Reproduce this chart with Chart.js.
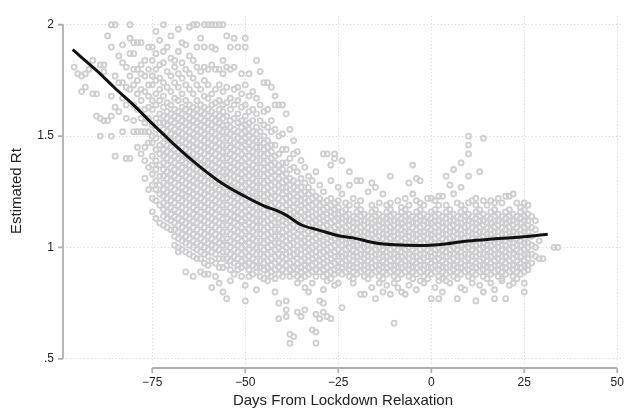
<!DOCTYPE html>
<html lang="en">
<head>
<meta charset="utf-8">
<title>Estimated Rt</title>
<script src="https://cdn.jsdelivr.net/npm/chart.js@4.4.1/dist/chart.umd.min.js"></script>
<style>
    html, body { margin: 0; padding: 0; background: #fff; }
    #wrap { width: 633px; height: 410px; }
</style>
</head>
<body>
<div id="wrap"><canvas id="chart" width="633" height="410"></canvas></div>
<script>
// days from lockdown relaxation (one row of rtByDay per day)
const days = [
    -96, -95, -94, -93, -92, -91, -90, -89, -88, -87,
    -86, -85, -84, -83, -82, -81, -80, -79, -78, -77,
    -76, -75, -74, -73, -72, -71, -70, -69, -68, -67,
    -66, -65, -64, -63, -62, -61, -60, -59, -58, -57,
    -56, -55, -54, -53, -52, -51, -50, -49, -48, -47,
    -46, -45, -44, -43, -42, -41, -40, -39, -38, -37,
    -36, -35, -34, -33, -32, -31, -30, -29, -28, -27,
    -26, -25, -24, -23, -22, -21, -20, -19, -18, -17,
    -16, -15, -14, -13, -12, -11, -10, -9, -8, -7,
    -6, -5, -4, -3, -2, -1, 0, 1, 2, 3,
    4, 5, 6, 7, 8, 9, 10, 11, 12, 13,
    14, 15, 16, 17, 18, 19, 20, 21, 22, 23,
    24, 25, 26, 27, 28, 29, 30, 31, 32, 33,
    34
];

// estimated Rt of each region
const rtByDay = [
    [1.81],
    [1.78],
    [1.77, 1.70],
    [1.78, 1.72],
    [1.80],
    [1.84, 1.69],
    [1.69, 1.59],
    [1.58, 1.50, 1.82],
    [1.82, 1.79, 1.57],
    [1.57, 1.95],
    [2.00, 1.90, 1.59, 1.50, 1.68],
    [2.00, 1.41, 1.77, 1.63],
    [1.74, 1.61, 1.86],
    [1.91, 1.83, 1.74, 1.67, 1.52],
    [1.40, 1.81, 1.72, 1.58, 1.64],
    [2.00, 1.94, 1.77, 1.87, 1.71, 1.40],
    [1.87, 1.92, 1.80, 1.52, 1.73, 1.64, 1.57],
    [1.69, 1.92, 1.80, 1.52, 1.75, 1.62, 1.45],
    [1.92, 1.82, 1.52, 1.71, 1.42, 1.66, 1.58, 1.78],
    [1.84, 1.52, 1.39, 1.31, 1.77, 1.62, 1.70, 1.56, 1.45],
    [1.73, 1.68, 1.90, 1.47, 1.58, 1.36, 1.80, 1.63, 1.52, 1.26],
    [1.90, 1.84, 1.77, 1.73, 1.66, 1.62, 1.55, 1.50, 1.47, 1.41, 1.37, 1.33, 1.28, 1.22, 1.16],
    [1.97, 1.87, 1.80, 1.75, 1.69, 1.64, 1.58, 1.53, 1.49, 1.44, 1.39, 1.35, 1.30, 1.26, 1.21, 1.13],
    [1.93, 1.82, 1.76, 1.71, 1.66, 1.60, 1.56, 1.51, 1.46, 1.42, 1.37, 1.32, 1.28, 1.24, 1.19, 1.11],
    [2.00, 1.88, 1.83, 1.74, 1.68, 1.63, 1.59, 1.56, 1.53, 1.50, 1.47, 1.44, 1.41, 1.38, 1.35, 1.32, 1.29, 1.26, 1.23, 1.20, 1.17, 1.14, 1.10],
    [1.90, 1.79, 1.72, 1.65, 1.61, 1.58, 1.55, 1.52, 1.49, 1.46, 1.43, 1.40, 1.37, 1.34, 1.31, 1.28, 1.25, 1.22, 1.19, 1.16, 1.13, 1.09],
    [1.95, 1.85, 1.77, 1.70, 1.64, 1.60, 1.57, 1.54, 1.51, 1.48, 1.45, 1.42, 1.39, 1.36, 1.33, 1.30, 1.27, 1.24, 1.21, 1.18, 1.15, 1.12, 1.08],
    [1.84, 1.81, 1.74, 1.67, 1.62, 1.59, 1.56, 1.53, 1.50, 1.47, 1.44, 1.41, 1.38, 1.35, 1.32, 1.29, 1.26, 1.23, 1.20, 1.17, 1.14, 1.11, 1.08, 1.05, 1.01],
    [1.98, 1.88, 1.78, 1.72, 1.66, 1.61, 1.58, 1.55, 1.52, 1.49, 1.46, 1.43, 1.40, 1.37, 1.34, 1.31, 1.28, 1.25, 1.22, 1.19, 1.16, 1.13, 1.10, 1.07, 1.04, 1.00, 0.98],
    [1.92, 1.83, 1.76, 1.69, 1.63, 1.60, 1.57, 1.54, 1.51, 1.48, 1.45, 1.42, 1.39, 1.36, 1.33, 1.30, 1.27, 1.24, 1.21, 1.18, 1.15, 1.12, 1.09, 1.06, 1.03, 0.99],
    [1.91, 1.80, 1.73, 1.66, 1.62, 1.59, 1.56, 1.53, 1.50, 1.47, 1.44, 1.41, 1.38, 1.35, 1.32, 1.29, 1.26, 1.23, 1.20, 1.17, 1.14, 1.11, 1.08, 1.05, 1.02, 0.98, 0.89],
    [1.99, 1.86, 1.78, 1.71, 1.64, 1.61, 1.58, 1.55, 1.52, 1.49, 1.46, 1.43, 1.40, 1.37, 1.34, 1.31, 1.28, 1.25, 1.22, 1.19, 1.16, 1.13, 1.10, 1.07, 1.04, 1.01, 0.97],
    [2.00, 1.84, 1.76, 1.69, 1.63, 1.60, 1.57, 1.54, 1.51, 1.48, 1.45, 1.42, 1.39, 1.36, 1.33, 1.30, 1.27, 1.24, 1.21, 1.18, 1.15, 1.12, 1.09, 1.06, 1.03, 1.00, 0.96, 0.87],
    [2.00, 1.90, 1.81, 1.73, 1.66, 1.62, 1.59, 1.56, 1.53, 1.50, 1.47, 1.44, 1.41, 1.38, 1.35, 1.32, 1.29, 1.26, 1.23, 1.20, 1.17, 1.14, 1.11, 1.08, 1.05, 1.02, 0.99, 0.95],
    [1.94, 1.79, 1.71, 1.64, 1.61, 1.58, 1.55, 1.52, 1.49, 1.46, 1.43, 1.40, 1.37, 1.34, 1.31, 1.28, 1.25, 1.22, 1.19, 1.16, 1.13, 1.10, 1.07, 1.04, 1.01, 0.98, 0.95, 0.89],
    [2.00, 1.90, 1.81, 1.75, 1.68, 1.63, 1.60, 1.57, 1.54, 1.51, 1.48, 1.45, 1.42, 1.39, 1.36, 1.33, 1.30, 1.27, 1.24, 1.21, 1.18, 1.15, 1.12, 1.09, 1.06, 1.03, 1.00, 0.97, 0.93, 0.88],
    [2.00, 1.80, 1.73, 1.67, 1.62, 1.59, 1.56, 1.53, 1.50, 1.47, 1.44, 1.41, 1.38, 1.35, 1.32, 1.29, 1.26, 1.23, 1.20, 1.17, 1.14, 1.11, 1.08, 1.05, 1.02, 0.99, 0.96, 0.92, 0.88],
    [2.00, 1.90, 1.82, 1.69, 1.64, 1.61, 1.58, 1.55, 1.52, 1.49, 1.46, 1.43, 1.40, 1.37, 1.34, 1.31, 1.28, 1.25, 1.22, 1.19, 1.16, 1.13, 1.10, 1.07, 1.04, 1.01, 0.98, 0.94, 0.82],
    [2.00, 1.89, 1.80, 1.71, 1.65, 1.60, 1.57, 1.54, 1.51, 1.48, 1.45, 1.42, 1.39, 1.36, 1.33, 1.30, 1.27, 1.24, 1.21, 1.18, 1.15, 1.12, 1.09, 1.06, 1.03, 1.00, 0.97, 0.93, 0.87],
    [2.00, 1.80, 1.73, 1.66, 1.62, 1.59, 1.56, 1.53, 1.50, 1.47, 1.44, 1.41, 1.38, 1.35, 1.32, 1.29, 1.26, 1.23, 1.20, 1.17, 1.14, 1.11, 1.08, 1.05, 1.02, 0.99, 0.95, 0.91, 0.84],
    [2.00, 1.84, 1.78, 1.70, 1.64, 1.61, 1.58, 1.55, 1.52, 1.49, 1.46, 1.43, 1.40, 1.37, 1.34, 1.31, 1.28, 1.25, 1.22, 1.19, 1.16, 1.13, 1.10, 1.07, 1.04, 1.01, 0.98, 0.95, 0.91, 0.80],
    [1.95, 1.81, 1.72, 1.65, 1.59, 1.55, 1.52, 1.49, 1.46, 1.43, 1.40, 1.37, 1.34, 1.31, 1.28, 1.25, 1.22, 1.19, 1.16, 1.13, 1.10, 1.07, 1.04, 1.01, 0.98, 0.95, 0.92, 0.77],
    [1.90, 1.80, 1.67, 1.62, 1.57, 1.54, 1.51, 1.48, 1.45, 1.42, 1.39, 1.36, 1.33, 1.30, 1.27, 1.24, 1.21, 1.18, 1.15, 1.12, 1.09, 1.06, 1.03, 1.00, 0.97, 0.94, 0.90, 0.85],
    [1.94, 1.81, 1.71, 1.64, 1.58, 1.53, 1.50, 1.47, 1.44, 1.41, 1.38, 1.35, 1.32, 1.29, 1.26, 1.23, 1.20, 1.17, 1.14, 1.11, 1.08, 1.05, 1.02, 0.99, 0.96, 0.93, 0.88],
    [1.90, 1.72, 1.66, 1.60, 1.56, 1.52, 1.49, 1.46, 1.43, 1.40, 1.37, 1.34, 1.31, 1.28, 1.25, 1.22, 1.19, 1.16, 1.13, 1.10, 1.07, 1.04, 1.01, 0.98, 0.95, 0.92, 0.90],
    [1.78, 1.69, 1.63, 1.57, 1.54, 1.51, 1.48, 1.45, 1.42, 1.39, 1.36, 1.33, 1.30, 1.27, 1.24, 1.21, 1.18, 1.15, 1.12, 1.09, 1.06, 1.03, 1.00, 0.97, 0.94, 0.91, 0.87],
    [1.94, 1.90, 1.73, 1.64, 1.59, 1.55, 1.52, 1.49, 1.46, 1.43, 1.40, 1.37, 1.34, 1.31, 1.28, 1.25, 1.22, 1.19, 1.16, 1.13, 1.10, 1.07, 1.04, 1.01, 0.98, 0.95, 0.92, 0.83, 0.76],
    [1.78, 1.68, 1.61, 1.56, 1.53, 1.50, 1.47, 1.44, 1.41, 1.38, 1.35, 1.32, 1.29, 1.26, 1.23, 1.20, 1.17, 1.14, 1.11, 1.08, 1.05, 1.02, 0.99, 0.96, 0.93, 0.90, 0.87],
    [1.70, 1.62, 1.57, 1.52, 1.49, 1.46, 1.43, 1.40, 1.37, 1.34, 1.31, 1.28, 1.25, 1.22, 1.19, 1.16, 1.13, 1.10, 1.07, 1.04, 1.01, 0.98, 0.95, 0.92, 0.88],
    [1.84, 1.67, 1.60, 1.54, 1.51, 1.48, 1.45, 1.42, 1.39, 1.36, 1.33, 1.30, 1.27, 1.24, 1.21, 1.18, 1.15, 1.12, 1.09, 1.06, 1.03, 1.00, 0.97, 0.94, 0.91, 0.89, 0.81],
    [1.79, 1.64, 1.57, 1.52, 1.48, 1.45, 1.42, 1.39, 1.36, 1.33, 1.30, 1.27, 1.24, 1.21, 1.18, 1.15, 1.12, 1.09, 1.06, 1.03, 1.00, 0.97, 0.94, 0.91, 0.87],
    [1.74, 1.61, 1.55, 1.50, 1.47, 1.44, 1.41, 1.38, 1.35, 1.32, 1.29, 1.26, 1.23, 1.20, 1.17, 1.14, 1.11, 1.08, 1.05, 1.02, 0.99, 0.96, 0.93, 0.90, 0.86],
    [1.74, 1.62, 1.54, 1.48, 1.45, 1.42, 1.39, 1.36, 1.33, 1.30, 1.27, 1.24, 1.21, 1.18, 1.15, 1.12, 1.09, 1.06, 1.03, 1.00, 0.97, 0.94, 0.91, 0.88, 0.85],
    [1.72, 1.57, 1.52, 1.46, 1.43, 1.40, 1.37, 1.34, 1.31, 1.28, 1.25, 1.22, 1.19, 1.16, 1.13, 1.10, 1.07, 1.04, 1.01, 0.98, 0.95, 0.92, 0.89, 0.87],
    [1.68, 1.64, 1.53, 1.46, 1.41, 1.38, 1.35, 1.32, 1.29, 1.26, 1.23, 1.20, 1.17, 1.14, 1.11, 1.08, 1.05, 1.02, 0.99, 0.96, 0.93, 0.90, 0.86, 0.80],
    [1.64, 1.50, 1.42, 1.37, 1.34, 1.31, 1.28, 1.25, 1.22, 1.19, 1.16, 1.13, 1.11, 1.08, 1.05, 1.02, 1.00, 0.97, 0.94, 0.91, 0.88, 0.75, 0.68],
    [1.64, 1.51, 1.44, 1.38, 1.35, 1.32, 1.29, 1.27, 1.24, 1.21, 1.18, 1.15, 1.12, 1.10, 1.07, 1.04, 1.01, 0.99, 0.96, 0.93, 0.90, 0.87],
    [1.60, 1.44, 1.38, 1.33, 1.30, 1.27, 1.25, 1.22, 1.19, 1.16, 1.14, 1.11, 1.08, 1.05, 1.03, 1.00, 0.97, 0.95, 0.92, 0.89, 0.76, 0.72, 0.69],
    [1.53, 1.40, 1.35, 1.31, 1.28, 1.26, 1.23, 1.20, 1.17, 1.15, 1.12, 1.09, 1.06, 1.04, 1.01, 0.98, 0.96, 0.93, 0.90, 0.87, 0.61, 0.57],
    [1.48, 1.42, 1.36, 1.30, 1.27, 1.24, 1.21, 1.18, 1.16, 1.13, 1.10, 1.07, 1.05, 1.02, 0.99, 0.97, 0.94, 0.91, 0.88, 0.60],
    [1.43, 1.34, 1.29, 1.26, 1.23, 1.20, 1.17, 1.14, 1.12, 1.09, 1.06, 1.03, 1.01, 0.98, 0.95, 0.93, 0.90, 0.87, 0.84, 0.71],
    [1.39, 1.31, 1.27, 1.24, 1.21, 1.19, 1.16, 1.13, 1.10, 1.08, 1.05, 1.02, 0.99, 0.97, 0.94, 0.91, 0.89, 0.86, 0.69],
    [1.36, 1.29, 1.25, 1.22, 1.20, 1.17, 1.14, 1.11, 1.09, 1.06, 1.03, 1.00, 0.98, 0.95, 0.92, 0.90, 0.87, 0.82, 0.72],
    [1.32, 1.27, 1.24, 1.21, 1.18, 1.15, 1.13, 1.10, 1.07, 1.04, 1.02, 0.99, 0.96, 0.94, 0.91, 0.88, 0.80],
    [1.30, 1.25, 1.22, 1.19, 1.16, 1.14, 1.11, 1.08, 1.06, 1.03, 1.00, 0.97, 0.95, 0.92, 0.89, 0.84, 0.63],
    [1.34, 1.23, 1.20, 1.17, 1.15, 1.12, 1.09, 1.07, 1.04, 1.01, 0.98, 0.96, 0.93, 0.90, 0.87, 0.70, 0.62, 0.57],
    [1.28, 1.22, 1.19, 1.16, 1.13, 1.11, 1.08, 1.05, 1.02, 1.00, 0.97, 0.94, 0.92, 0.89, 0.76, 0.68],
    [1.42, 1.25, 1.20, 1.17, 1.14, 1.12, 1.09, 1.06, 1.03, 1.01, 0.98, 0.95, 0.93, 0.90, 0.87, 0.81, 0.75, 0.71],
    [1.42, 1.21, 1.18, 1.15, 1.13, 1.10, 1.07, 1.04, 1.02, 0.99, 0.96, 0.94, 0.91, 0.88, 0.85, 0.69],
    [1.37, 1.30, 1.22, 1.19, 1.16, 1.14, 1.11, 1.08, 1.05, 1.03, 1.00, 0.97, 0.95, 0.92, 0.89, 0.86, 0.68],
    [1.42, 1.40, 1.20, 1.17, 1.15, 1.12, 1.09, 1.06, 1.04, 1.01, 0.98, 0.96, 0.93, 0.90, 0.88, 0.83],
    [1.27, 1.21, 1.18, 1.15, 1.13, 1.10, 1.07, 1.05, 1.02, 0.99, 0.96, 0.94, 0.91, 0.89, 0.84],
    [1.39, 1.24, 1.16, 1.13, 1.11, 1.08, 1.06, 1.03, 1.01, 0.98, 0.96, 0.93, 0.91, 0.88, 0.73],
    [1.20, 1.17, 1.14, 1.12, 1.09, 1.07, 1.04, 1.02, 0.99, 0.97, 0.94, 0.92, 0.89],
    [1.34, 1.28, 1.19, 1.15, 1.12, 1.10, 1.07, 1.05, 1.02, 1.00, 0.97, 0.95, 0.92, 0.90, 0.87],
    [1.22, 1.14, 1.11, 1.09, 1.06, 1.04, 1.01, 0.99, 0.96, 0.94, 0.91, 0.89, 0.86, 0.84],
    [1.30, 1.19, 1.16, 1.13, 1.11, 1.08, 1.06, 1.03, 1.01, 0.98, 0.96, 0.93, 0.91, 0.88],
    [1.30, 1.21, 1.17, 1.14, 1.12, 1.09, 1.07, 1.04, 1.02, 0.99, 0.97, 0.94, 0.92, 0.89, 0.79],
    [1.15, 1.12, 1.10, 1.07, 1.05, 1.02, 1.00, 0.97, 0.95, 0.92, 0.90, 0.87, 0.79],
    [1.25, 1.14, 1.11, 1.09, 1.06, 1.04, 1.01, 0.99, 0.96, 0.94, 0.91, 0.89, 0.86],
    [1.29, 1.19, 1.16, 1.13, 1.11, 1.08, 1.06, 1.03, 1.01, 0.98, 0.96, 0.93, 0.91, 0.88, 0.82],
    [1.27, 1.17, 1.14, 1.12, 1.09, 1.07, 1.04, 1.02, 0.99, 0.97, 0.94, 0.92, 0.89, 0.77],
    [1.20, 1.15, 1.12, 1.10, 1.07, 1.05, 1.02, 1.00, 0.97, 0.95, 0.92, 0.90, 0.87, 0.84],
    [1.24, 1.14, 1.11, 1.09, 1.06, 1.04, 1.01, 0.99, 0.96, 0.94, 0.91, 0.89, 0.86, 0.80],
    [1.19, 1.16, 1.13, 1.11, 1.08, 1.06, 1.03, 1.01, 0.98, 0.96, 0.93, 0.91, 0.88, 0.83],
    [1.32, 1.20, 1.17, 1.14, 1.12, 1.09, 1.07, 1.04, 1.02, 0.99, 0.97, 0.94, 0.92, 0.89, 0.79],
    [1.15, 1.12, 1.10, 1.07, 1.05, 1.02, 1.00, 0.97, 0.95, 0.92, 0.90, 0.87, 0.84, 0.66],
    [1.21, 1.14, 1.11, 1.09, 1.06, 1.04, 1.01, 0.99, 0.96, 0.94, 0.91, 0.89, 0.86, 0.82],
    [1.18, 1.16, 1.13, 1.11, 1.08, 1.06, 1.03, 1.01, 0.98, 0.96, 0.93, 0.91, 0.88, 0.80],
    [1.22, 1.17, 1.14, 1.12, 1.09, 1.07, 1.04, 1.02, 0.99, 0.97, 0.94, 0.92, 0.89, 0.79],
    [1.29, 1.19, 1.15, 1.12, 1.10, 1.07, 1.05, 1.02, 1.00, 0.97, 0.95, 0.92, 0.90, 0.87, 0.83],
    [1.37, 1.24, 1.14, 1.11, 1.09, 1.06, 1.04, 1.01, 0.99, 0.96, 0.94, 0.91, 0.89, 0.86],
    [1.31, 1.21, 1.16, 1.13, 1.11, 1.08, 1.06, 1.03, 1.01, 0.98, 0.96, 0.93, 0.91, 0.88, 0.81],
    [1.30, 1.20, 1.17, 1.14, 1.12, 1.09, 1.07, 1.04, 1.02, 0.99, 0.97, 0.94, 0.92, 0.89, 0.85],
    [1.19, 1.15, 1.12, 1.10, 1.07, 1.05, 1.02, 1.00, 0.97, 0.95, 0.92, 0.90, 0.87, 0.84],
    [1.22, 1.14, 1.11, 1.09, 1.06, 1.04, 1.01, 0.99, 0.96, 0.94, 0.91, 0.89, 0.86],
    [1.22, 1.16, 1.13, 1.11, 1.08, 1.06, 1.03, 1.01, 0.98, 0.96, 0.93, 0.91, 0.88, 0.77],
    [1.21, 1.17, 1.14, 1.12, 1.09, 1.07, 1.04, 1.02, 0.99, 0.97, 0.94, 0.92, 0.89, 0.82],
    [1.23, 1.19, 1.15, 1.12, 1.10, 1.07, 1.05, 1.02, 1.00, 0.97, 0.95, 0.92, 0.90, 0.87, 0.85, 0.77],
    [1.23, 1.14, 1.11, 1.09, 1.06, 1.04, 1.01, 0.99, 0.96, 0.94, 0.91, 0.89, 0.86, 0.80],
    [1.32, 1.19, 1.16, 1.13, 1.11, 1.08, 1.06, 1.03, 1.01, 0.98, 0.96, 0.93, 0.91, 0.88, 0.85],
    [1.28, 1.17, 1.14, 1.12, 1.09, 1.07, 1.04, 1.02, 0.99, 0.97, 0.94, 0.92, 0.89, 0.84],
    [1.35, 1.24, 1.15, 1.12, 1.10, 1.07, 1.05, 1.02, 1.00, 0.97, 0.95, 0.92, 0.90, 0.87],
    [1.20, 1.14, 1.11, 1.09, 1.06, 1.04, 1.01, 0.99, 0.96, 0.94, 0.91, 0.89, 0.86, 0.77],
    [1.38, 1.27, 1.19, 1.16, 1.13, 1.11, 1.08, 1.06, 1.03, 1.01, 0.98, 0.96, 0.93, 0.91, 0.88, 0.82],
    [1.17, 1.14, 1.12, 1.09, 1.07, 1.04, 1.02, 0.99, 0.97, 0.94, 0.92, 0.89, 0.81],
    [1.50, 1.46, 1.42, 1.32, 1.20, 1.15, 1.12, 1.10, 1.07, 1.05, 1.02, 1.00, 0.97, 0.95, 0.92, 0.90, 0.87],
    [1.21, 1.14, 1.11, 1.09, 1.06, 1.04, 1.01, 0.99, 0.96, 0.94, 0.91, 0.89, 0.86, 0.84],
    [1.22, 1.19, 1.16, 1.13, 1.11, 1.08, 1.06, 1.03, 1.01, 0.98, 0.96, 0.93, 0.91, 0.88, 0.76],
    [1.34, 1.17, 1.14, 1.12, 1.09, 1.07, 1.04, 1.02, 0.99, 0.97, 0.94, 0.92, 0.89, 0.83],
    [1.49, 1.21, 1.15, 1.12, 1.10, 1.07, 1.05, 1.02, 1.00, 0.97, 0.95, 0.92, 0.90, 0.87, 0.80],
    [1.19, 1.14, 1.11, 1.09, 1.06, 1.04, 1.01, 0.99, 0.96, 0.94, 0.91, 0.89, 0.86],
    [1.21, 1.16, 1.13, 1.11, 1.08, 1.06, 1.03, 1.01, 0.98, 0.96, 0.93, 0.91, 0.88, 0.84],
    [1.20, 1.17, 1.14, 1.12, 1.09, 1.07, 1.04, 1.02, 0.99, 0.97, 0.94, 0.92, 0.89, 0.81, 0.77],
    [1.22, 1.15, 1.12, 1.10, 1.07, 1.05, 1.02, 1.00, 0.97, 0.95, 0.92, 0.90, 0.87],
    [1.20, 1.14, 1.11, 1.09, 1.06, 1.04, 1.01, 0.99, 0.96, 0.94, 0.91, 0.89, 0.86, 0.85],
    [1.23, 1.16, 1.13, 1.11, 1.08, 1.06, 1.03, 1.01, 0.98, 0.96, 0.93, 0.91, 0.88, 0.77],
    [1.23, 1.17, 1.14, 1.12, 1.09, 1.07, 1.04, 1.02, 0.99, 0.97, 0.94, 0.92, 0.89, 0.83],
    [1.24, 1.15, 1.12, 1.10, 1.07, 1.05, 1.02, 1.00, 0.97, 0.95, 0.92, 0.90, 0.87, 0.84],
    [1.20, 1.14, 1.11, 1.09, 1.06, 1.04, 1.01, 0.99, 0.96, 0.94, 0.91, 0.89, 0.86],
    [1.18, 1.16, 1.13, 1.11, 1.08, 1.06, 1.03, 1.01, 0.98, 0.96, 0.93, 0.91, 0.88],
    [1.20, 1.17, 1.14, 1.12, 1.09, 1.07, 1.04, 1.02, 0.99, 0.97, 0.94, 0.92, 0.89, 0.84, 0.80],
    [1.19, 1.15, 1.12, 1.10, 1.07, 1.05, 1.02, 1.00, 0.97, 0.95, 0.92, 0.90],
    [1.14, 1.09, 1.05, 1.01, 0.97, 0.93],
    [1.08, 1.00, 0.96, 1.12],
    [0.95, 1.03],
    [0.95],
    [],
    [],
    [1.00],
    [1.00]
];

// smoothed fit (black line)
const fitDays = [-96.4, -90, -85, -80, -75, -71.5, -64.5, -57.3, -50.4, -45, -41.5, -38.8,
                 -35, -30, -25, -21, -15, -10, -3.4, 3.8, 9.1, 15, 22.4, 31.3];
const fitRt = [1.888, 1.795, 1.715, 1.639, 1.556, 1.50, 1.394, 1.30, 1.232, 1.187, 1.165, 1.143,
               1.102, 1.077, 1.053, 1.043, 1.02, 1.012, 1.009, 1.016, 1.028, 1.036, 1.045, 1.059];

const xTicks = [-75, -50, -25, 0, 25, 50];
const yTicks = [0.5, 1, 1.5, 2];

var scatterPoints = [];
days.forEach(function (d, i) {
    rtByDay[i].forEach(function (v) { scatterPoints.push({ x: d, y: v }); });
});
var fitPoints = fitDays.map(function (d, i) { return { x: d, y: fitRt[i] }; });

// stata-style axis lines: only as long as the tick range, x axis set below the plot
const stataAxes = {
    id: 'stataAxes',
    afterDraw(chart) {
        const { ctx, chartArea } = chart;
        const xs = chart.scales.x, ys = chart.scales.y;
        ctx.save();
        ctx.strokeStyle = '#b0b0b0';
        ctx.lineWidth = 1.8;
        ctx.beginPath();
        const ax = chartArea.left;
        ctx.moveTo(ax, ys.getPixelForValue(yTicks[0]));
        ctx.lineTo(ax, ys.getPixelForValue(yTicks[yTicks.length - 1]));
        yTicks.forEach(function (v) {
            const p = ys.getPixelForValue(v);
            ctx.moveTo(ax - 5, p); ctx.lineTo(ax, p);
        });
        const ay = chartArea.bottom + 2;
        ctx.moveTo(xs.getPixelForValue(xTicks[0]), ay);
        ctx.lineTo(xs.getPixelForValue(xTicks[xTicks.length - 1]), ay);
        xTicks.forEach(function (v) {
            const p = xs.getPixelForValue(v);
            ctx.moveTo(p, ay); ctx.lineTo(p, ay + 5);
        });
        ctx.stroke();
        ctx.restore();
    }
};

var ctx = document.getElementById('chart').getContext('2d');
var font = 'Liberation Sans, Arial, Helvetica, sans-serif';

var myChart = new Chart(ctx, {
    type: 'scatter',
    data: {
        datasets: [{
            type: 'line',
            data: fitPoints,
            borderColor: '#111111',
            borderWidth: 3,
            pointRadius: 0,
            fill: false,
            cubicInterpolationMode: 'monotone'
        }, {
            data: scatterPoints,
            pointRadius: 2.5,
            pointBorderWidth: 1.8,
            borderColor: 'rgb(206,206,208)',
            backgroundColor: 'rgba(0,0,0,0)',
            pointHoverRadius: 2.5
        }]
    },
    options: {
        responsive: false,
        animation: false,
        devicePixelRatio: 1,
        layout: { padding: { top: 11, right: 3, left: 0, bottom: 0 } },
        plugins: { legend: { display: false }, tooltip: { enabled: false } },
        scales: {
            x: {
                type: 'linear',
                min: -99,
                max: 51.5,
                afterBuildTicks: function (s) { s.ticks = xTicks.map(function (v) { return { value: v }; }); },
                afterFit: function (s) { s.height = 44; },
                grid: { color: '#d4d4d4', lineWidth: 1, drawTicks: false },
                border: { display: false, dash: [1, 2.5] },
                ticks: {
                    padding: 9,
                    color: '#222',
                    font: { family: font, size: 12 },
                    callback: function (v) { return v < 0 ? '\u2212' + Math.abs(v) : String(v); }
                },
                title: {
                    display: true,
                    text: 'Days From Lockdown Relaxation',
                    color: '#222',
                    font: { family: font, size: 15, lineHeight: 1.2 },
                    padding: { top: 0, bottom: 0 }
                }
            },
            y: {
                type: 'linear',
                min: 0.4677,
                max: 2.0385,
                afterBuildTicks: function (s) { s.ticks = yTicks.map(function (v) { return { value: v }; }); },
                afterFit: function (s) { s.width = 63; },
                grid: { color: '#d4d4d4', lineWidth: 1, drawTicks: false },
                border: { display: false, dash: [1, 2.5] },
                ticks: {
                    padding: 9,
                    color: '#222',
                    font: { family: font, size: 12 },
                    callback: function (v) { return v === 0.5 ? '.5' : String(v); }
                },
                title: {
                    display: true,
                    text: 'Estimated Rt',
                    color: '#222',
                    font: { family: font, size: 15, lineHeight: 1.2 },
                    padding: { top: 8, bottom: 0 }
                }
            }
        }
    },
    plugins: [stataAxes]
});
</script>
</body>
</html>
